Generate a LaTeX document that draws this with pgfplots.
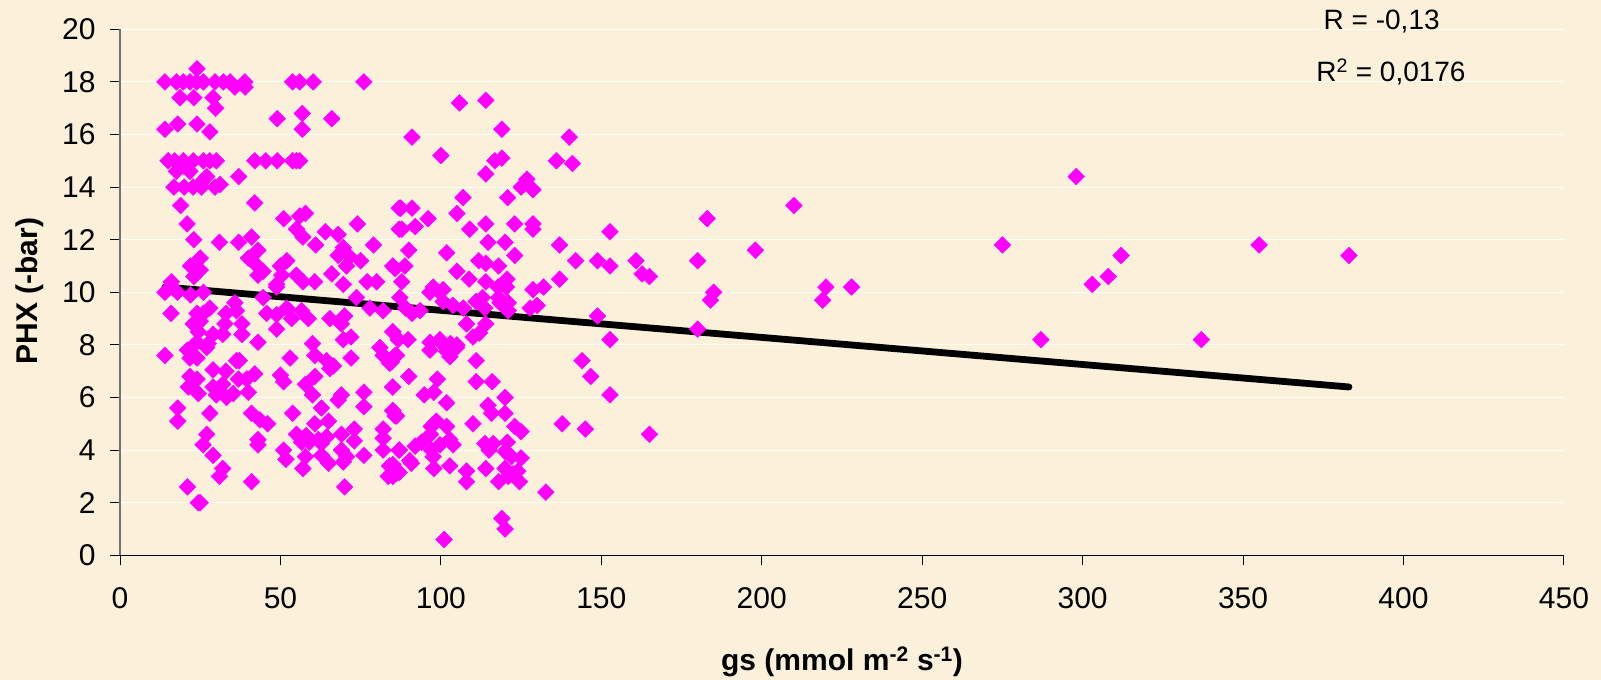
\documentclass[border=0pt]{standalone}
\usepackage{pgfplots}
\usepackage{fontspec}
\setmainfont{Liberation Sans}
\pgfplotsset{compat=1.18}
\definecolor{bgc}{HTML}{FBF0DA}
\definecolor{mg}{HTML}{FF00FF}
\begin{document}
\begin{tikzpicture}[x=1pt,y=1pt]
\useasboundingbox (0,0) rectangle (1601,680);
\fill[bgc] (0,0) rectangle (1601,680);
\begin{axis}[
  at={(120pt,124.7pt)},anchor=origin,
  /pgf/number format/assume math mode=true,
  scale only axis,width=1444pt,height=526pt,
  xmin=0,xmax=450,ymin=0,ymax=20,
  xtick={0,50,...,450},ytick={0,2,...,20},
  axis lines=left,
  axis line style={-},
  x axis line style={black,line width=1pt},
  y axis line style={color=black!55,line width=1.6pt},
  tick align=outside,
  major tick length=10pt,
  tick style={black,line width=1pt},
  ymajorgrids,
  major grid style={white,line width=1pt,opacity=.85},
  ticklabel style={font=\fontsize{30}{34}\selectfont,black},
  xticklabel style={yshift=-19pt},
  yticklabel style={xshift=-11pt},
  clip=false
]
\addplot[only marks,mark=square*,mark size=5.9pt,mark options={rotate=45,draw=mg,fill=mg,line width=0.5pt}] table {
x y
14 18
17.6 18
19.7 18
21.8 18
23.9 18
26 18
29.6 18
32.2 18
34.3 18
38.9 18
35.8 17.8
39 17.8
24 18.5
18.7 17.4
23 17.4
29 17.4
29.8 17
53.8 18
56 18
60.2 18
76 18
49 16.6
56.8 16.8
66 16.6
56.8 16.2
14 16.2
18 16.4
24 16.4
28 16.1
15 15
17 15
19.7 15
22.8 15
26 15
28 15
30 15
42 15
45.4 15
49 15
53.8 15
55 15
56 15
17.6 14.6
21.8 14.6
19.7 14.8
27 14.4
25.5 14.2
37 14.4
16.8 14
20 14
22.8 14
25.4 14
29.6 14
31.2 14.1
18.9 13.3
42 13.4
20.9 12.6
23 12
31 11.9
37 11.9
41 12.1
43 11.6
51 12.8
57.8 13
56 12.9
55 12.4
57 12.1
64 12.3
68 12.2
74 12.6
61 11.8
79 11.8
87 13.2
87 12.4
25 11.3
22 11
25 10.85
23 10.6
16 10.4
40 11.3
42 11.1
44.6 10.8
43 10.65
52 11.2
50 11
50.4 10.65
55 10.65
57 10.4
60.7 10.4
66 10.7
69.6 11.7
68 11.4
71.6 11.35
75 11.2
70.6 11
69.6 10.3
85 11
77 10.4
80 10.4
48.8 10.3
14 10
17.9 10
22 9.9
26 10
15.9 9.2
24 9.2
28 9.4
26 9.2
22.8 8.8
25 8.9
24.4 8.5
35.8 9.6
33 9.2
36.3 9.3
32.7 8.8
38 8.8
38 8.4
32 8.4
29 8.4
27.5 8.05
27 7.9
23.9 8.1
21 7.8
21.8 7.5
24 7.5
43 8.1
44.6 9.8
45.7 9.2
48.8 9.15
48.8 8.6
52 9.4
53.5 9
56.6 9.3
58.7 9
48.8 10.2
65.4 9
69 8.8
70 9.1
69.6 8.2
72 8.3
73.7 9.8
77.9 9.4
82 9.3
85 8.5
81 7.9
82 7.6
84 7.3
85.7 7.6
53 7.5
60 8.05
60.7 7.6
64.4 7.4
65.4 7.1
66.5 7.2
72 7.5
14 7.6
36.3 7.4
37.2 7.4
29 7.05
33 7
42 6.9
36.9 6.7
39.5 6.7
21.8 6.8
24 6.7
21.3 6.4
24.4 6.15
29 6.4
30 6.1
33.2 6
35.3 6.15
40 6.2
32 6.5
50 6.85
51 6.6
57.8 6.5
60.7 6.8
60 6.1
69 6.1
68 5.9
76 6.2
76 5.65
85 6.4
18 5.6
18 5.1
28 5.4
41 5.4
43.6 5.15
46 5
53.8 5.4
62.8 5.6
60.7 5
65 5.1
85 5.5
85.7 5.3
27 4.6
25.9 4.2
29 3.8
43 4.4
43 4.2
51 4
51.7 3.65
55 4.6
56.6 4.3
58 4.55
59 4.3
61.8 4.4
64.4 4.5
62.8 4.25
69 4.6
73 4.8
73 4.35
82 4.8
82 4.45
82 4
76 3.8
69 4
62.8 3.8
65 3.5
70.6 3.75
69.6 3.55
57.8 3.75
57 3.3
32 3.3
31 3
41 2.8
70 2.6
21 2.6
24.4 2
25 2
87 4
85 3.45
83.6 3
86 3.1
105.8 17.2
114 17.3
119 16.2
91 15.9
140 15.9
100 15.2
136 15
141 14.9
116.8 15
119 15.1
114 14.5
126.8 14.3
125 14
128.7 13.9
106.9 13.6
120.8 13.6
87.5 13.2
91 13.2
96 12.8
105 13
87.8 12.4
92 12.5
109 12.4
114 12.6
123 12.6
128.7 12.6
128.7 12.4
152.7 12.3
114.7 11.9
120 11.9
137 11.8
90 11.6
101.8 11.5
123 11.4
142 11.2
148.8 11.2
152.7 11
160.8 11.2
162.7 10.7
165 10.6
111.8 11.2
114 11.1
118 11
88.8 11
85.7 10.9
105 10.8
108.8 10.5
87.8 10.4
114 10.4
120.6 10.5
117.8 10.2
120.4 10.2
137 10.5
128.7 10.1
132 10.2
97.6 10.2
100.7 10.1
96.6 10
99.7 10
87.2 9.8
113 9.8
111 9.65
118 9.8
118.4 9.6
121 9.6
121 9.3
103.8 9.5
100.7 9.65
107 9.4
113.7 9.4
130 9.5
127.8 9.4
148.8 9.1
93.5 9.3
91 9.2
89 9.4
108 8.8
114 8.8
112 8.45
110 8.3
152.7 8.2
89.8 8.2
85 8.5
86.7 8.2
96.6 8.1
100 8.1
103 8.05
105 8
96.6 7.8
99.7 8.2
104.9 7.9
101.8 7.75
102.8 7.55
86.2 7.6
84.6 7.35
111 7.4
144 7.4
146.7 6.8
90 6.8
98.9 6.7
111 6.6
116 6.6
85 6.4
97.8 6.2
94.8 6.1
120 6
152.7 6.1
101.8 5.8
114.7 5.7
115.8 5.4
120 5.4
85 5.5
86.2 5.3
98.6 5.1
101.8 4.9
97 4.9
110 5
137.8 5
145 4.8
165 4.6
123 4.9
125 4.7
96.8 4.6
94 4.3
92 4.15
99.7 4.2
102.8 4.4
103.8 4.2
97 4
97.6 3.75
120.7 4.3
113.7 4.25
116.3 4.25
115 4
120 3.95
122 3.75
125 3.7
87 4
90.3 3.6
90.8 3.5
84 3.4
87 3.15
85 3
97.8 3.3
102.8 3.4
108 3.2
108 2.8
114 3.3
120 3.3
124 3.2
118 2.8
121 3
124.5 2.8
122.5 3.1
132.7 2.4
119 1.4
120 1
101 0.6
180 8.6
183 12.8
180 11.2
184 9.7
185 10
198 11.6
210 13.3
219 9.7
220 10.2
228 10.2
275 11.8
287 8.2
298 14.4
303 10.3
308 10.6
312 11.4
337 8.2
355 11.8
383 11.4
};
\addplot[black,line width=6.8pt,line cap=round] coordinates {(14,10.2) (383,6.4)};
\end{axis}
\node[anchor=base,font=\fontsize{28}{32}\selectfont] at (1381.7,650) {R = -0,13};
\node[anchor=base,font=\fontsize{28}{32}\selectfont] at (1391,598.3) {R\textsuperscript{2} = 0,0176};
\node[anchor=base,font=\bfseries\fontsize{30}{34}\selectfont] at (842,9.5) {gs (mmol m\textsuperscript{-2} s\textsuperscript{-1})};
\node[anchor=base,rotate=90,font=\bfseries\fontsize{30}{34}\selectfont] at (37,389) {PHX (-bar)};
\end{tikzpicture}
\end{document}
